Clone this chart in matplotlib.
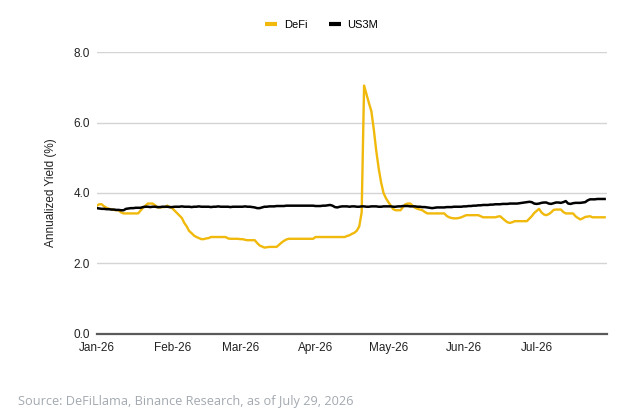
import matplotlib
matplotlib.use("Agg")
import matplotlib.pyplot as plt
import pandas as pd
from matplotlib.lines import Line2D

plt.rcParams['font.family'] = ['Liberation Sans', 'DejaVu Sans']

start_date = "2026-01-01"

defi_jan = [3.64,3.68,3.68,3.62,3.58,3.55,3.54,3.52,3.51,3.51,3.45,3.42,3.42,3.42,3.42,3.42,3.42,3.42,3.50,3.58,3.64,3.70,3.70,3.70,3.65,3.59,3.59,3.60,3.60,3.64,3.60]
defi_feb = [3.57,3.50,3.43,3.36,3.29,3.15,3.05,2.92,2.86,2.79,2.75,2.72,2.69,2.69,2.71,2.72,2.75,2.75,2.75,2.75,2.75,2.75,2.75,2.71,2.70,2.70,2.70,2.70]
defi_mar = [2.69,2.69,2.67,2.66,2.66,2.66,2.66,2.58,2.51,2.48,2.45,2.46,2.47,2.47,2.47,2.47,2.53,2.59,2.64,2.68,2.70,2.70,2.70,2.70,2.70,2.70,2.70,2.70,2.70,2.70,2.70]
defi_apr = [2.75,2.75,2.75,2.75,2.75,2.75,2.75,2.75,2.75,2.75,2.75,2.75,2.75,2.78,2.80,2.84,2.87,2.93,3.05,3.45,7.05,6.80,6.55,6.32,5.80,5.20,4.70,4.30,4.00,3.85]
defi_may = [3.74,3.64,3.54,3.51,3.51,3.51,3.60,3.68,3.70,3.70,3.64,3.58,3.55,3.53,3.51,3.46,3.42,3.42,3.42,3.42,3.42,3.42,3.42,3.42,3.35,3.31,3.29,3.28,3.28,3.29,3.31]
defi_jun = [3.34,3.37,3.37,3.37,3.37,3.37,3.37,3.34,3.31,3.31,3.31,3.31,3.31,3.31,3.33,3.34,3.28,3.22,3.17,3.15,3.17,3.20,3.20,3.20,3.20,3.20,3.20,3.27,3.34,3.43]
defi_jul = [3.49,3.55,3.45,3.39,3.37,3.40,3.45,3.52,3.53,3.53,3.53,3.46,3.42,3.42,3.42,3.42,3.34,3.29,3.25,3.28,3.32,3.33,3.34,3.31,3.31,3.31,3.31,3.31,3.31]

us3m_jan = [3.57,3.56,3.55,3.55,3.54,3.54,3.53,3.53,3.52,3.52,3.51,3.51,3.55,3.56,3.57,3.57,3.58,3.58,3.58,3.60,3.61,3.61,3.60,3.61,3.61,3.60,3.60,3.61,3.61,3.61,3.60]
us3m_feb = [3.60,3.61,3.61,3.61,3.62,3.61,3.61,3.61,3.60,3.61,3.61,3.62,3.61,3.61,3.61,3.61,3.60,3.61,3.61,3.62,3.61,3.61,3.61,3.61,3.60,3.61,3.61,3.61]
us3m_mar = [3.61,3.61,3.62,3.61,3.61,3.60,3.59,3.57,3.57,3.59,3.61,3.61,3.62,3.62,3.62,3.63,3.63,3.63,3.63,3.64,3.64,3.64,3.64,3.64,3.64,3.64,3.64,3.64,3.64,3.64,3.64]
us3m_apr = [3.63,3.63,3.63,3.64,3.64,3.65,3.66,3.64,3.60,3.59,3.61,3.62,3.62,3.62,3.61,3.62,3.62,3.61,3.61,3.62,3.62,3.61,3.61,3.62,3.62,3.62,3.61,3.61,3.62,3.62]
us3m_may = [3.62,3.62,3.61,3.61,3.62,3.62,3.63,3.63,3.63,3.62,3.62,3.62,3.61,3.61,3.60,3.60,3.59,3.58,3.57,3.58,3.59,3.59,3.59,3.59,3.60,3.60,3.60,3.61,3.61,3.61,3.61]
us3m_jun = [3.62,3.62,3.63,3.63,3.64,3.64,3.65,3.65,3.66,3.66,3.66,3.67,3.67,3.68,3.68,3.68,3.69,3.69,3.69,3.70,3.70,3.70,3.70,3.71,3.72,3.73,3.74,3.75,3.74,3.70]
us3m_jul = [3.69,3.70,3.72,3.73,3.73,3.70,3.69,3.71,3.73,3.73,3.72,3.74,3.77,3.70,3.69,3.71,3.72,3.72,3.72,3.73,3.74,3.79,3.82,3.82,3.82,3.83,3.83,3.83,3.83]

defi = defi_jan + defi_feb + defi_mar + defi_apr + defi_may + defi_jun + defi_jul
us3m = us3m_jan + us3m_feb + us3m_mar + us3m_apr + us3m_may + us3m_jun + us3m_jul
dates = pd.date_range(start_date, periods=len(defi), freq="D")

month_ticks = ["2026-01-01","2026-02-01","2026-03-01","2026-04-01","2026-05-01","2026-06-01","2026-07-01"]
month_labels = ["Jan-26","Feb-26","Mar-26","Apr-26","May-26","Jun-26","Jul-26"]
y_ticks = [0, 2, 4, 6, 8]

yellow = "#F0B90B"

fig = plt.figure(figsize=(6.37, 4.20), dpi=100)
fig.patch.set_facecolor("white")
ax = fig.add_axes([0.152, 0.205, 0.801, 0.671])
ax.set_facecolor("white")

ax.plot(dates, defi, color=yellow, lw=1.7, solid_joinstyle="round", zorder=3)
ax.plot(dates, us3m, color="black", lw=1.8, solid_joinstyle="round", zorder=4)

ax.set_ylim(0, 8)
ax.set_yticks(y_ticks)
ax.set_yticklabels([f"{v:.1f}" for v in y_ticks])
ax.set_xlim(pd.Timestamp("2026-01-01"), pd.Timestamp("2026-07-30"))
ax.set_xticks(pd.to_datetime(month_ticks))
ax.set_xticklabels(month_labels)

ax.grid(axis="y", color="#d4d4d4", lw=1.0)
ax.set_axisbelow(True)
for s in ["top", "right", "left"]:
    ax.spines[s].set_visible(False)
ax.spines["bottom"].set_color("#5a5a5a")
ax.spines["bottom"].set_linewidth(1.6)
ax.spines["bottom"].set_zorder(5)
ax.tick_params(axis="both", length=0, labelsize=8.5, colors="#222222")
ax.tick_params(axis="x", pad=6)
ax.tick_params(axis="y", pad=5)

ax.set_ylabel("Annualized Yield (%)", fontsize=8.5, color="#222222", labelpad=12)

handles = [Line2D([0], [0], color=yellow, lw=3, solid_capstyle="butt"),
           Line2D([0], [0], color="black", lw=3, solid_capstyle="butt")]
fig.legend(handles, ["DeFi", "US3M"], loc="center", bbox_to_anchor=(0.505, 0.94),
           ncol=2, frameon=False, fontsize=8, handlelength=1.1, handletextpad=0.6,
           columnspacing=1.9)

fig.text(18/637, 1 - 401/420, "Source: DeFiLlama, Binance Research, as of July 29, 2026",
         fontsize=9.2, color="#a3a9b0", family=["Open Sans", "DejaVu Sans"], va="center", ha="left")

fig.savefig("out.png", dpi=100)
